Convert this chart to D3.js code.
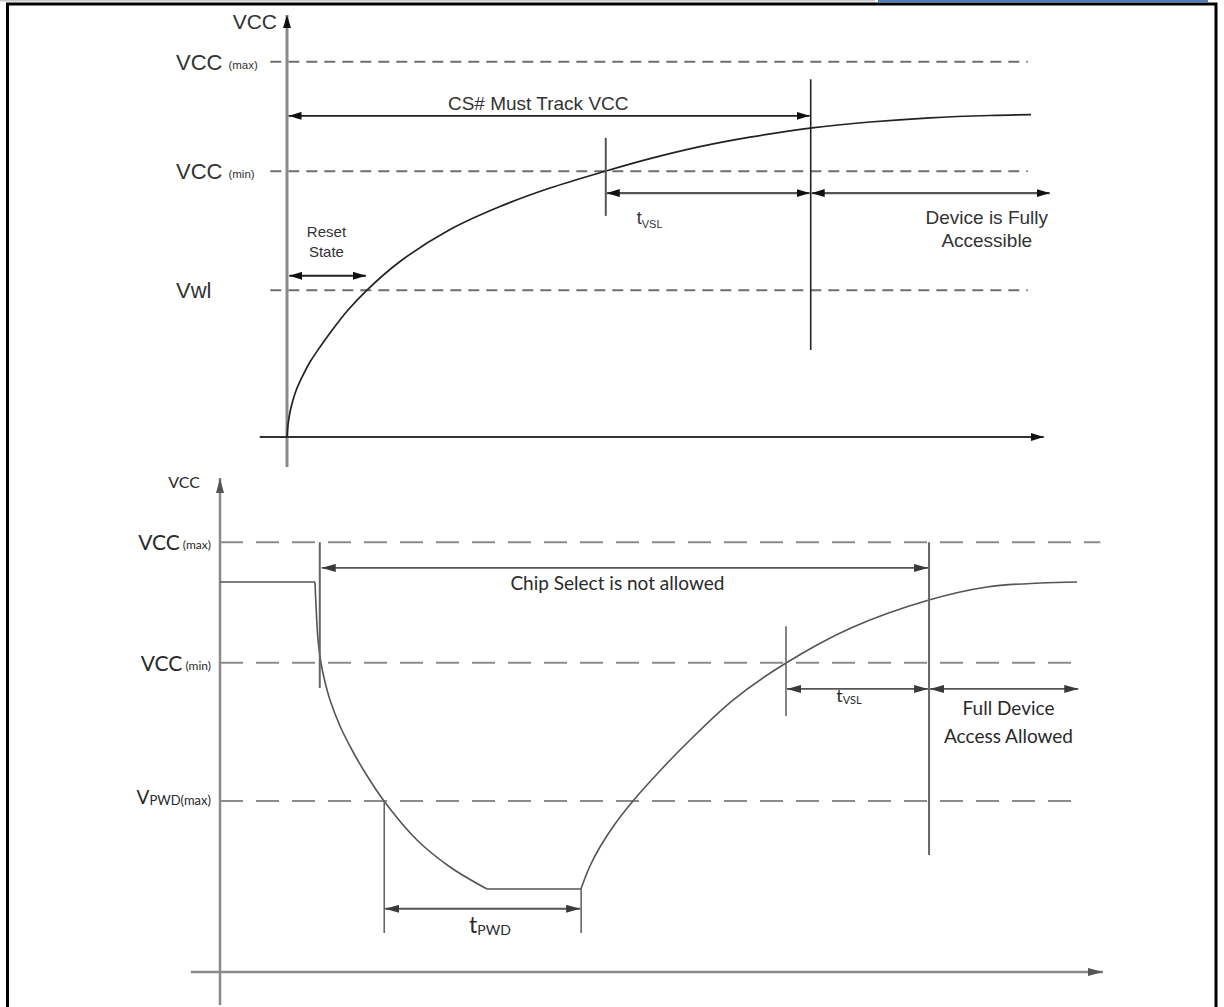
<!DOCTYPE html>
<html><head><meta charset="utf-8">
<script src="https://cdn.jsdelivr.net/npm/d3@7"></script>
<style>body{margin:0;background:#fff}svg{display:block}</style>
</head><body>
<script>
// ================= DATA =================
// --- Top panel: power-up timing (abstract units: time 0..100, voltage 0..100)
const topLevelNames = ["VCC", "VCC", "Vwl"];
const topLevelSubs  = ["(max)", "(min)", ""];
const topLevelV     = [88.9, 63.0, 34.8];
const topCurveT = [0, 0.13, 0.40, 0.79, 1.32, 2.11, 3.03, 4.35, 6.06, 8.04, 10.54, 14.89, 21.48, 28.06, 34.65, 42.03, 47.83, 54.41, 61.0, 69.17, 76.81, 84.72, 92.62, 98.02];
const topCurveV = [0, 2.84, 5.92, 8.77, 11.61, 14.69, 17.77, 21.33, 25.59, 30.09, 34.83, 41.59, 49.17, 54.62, 59.0, 63.03, 65.95, 68.79, 71.04, 73.25, 74.64, 75.62, 76.18, 76.37];
const topResetEnd = 10.4, topVslStart = 42.0, topAccess = 69.0, topEnd = 100.5;
const topCsV = 76.1, topVslV = 57.8, topResetV = 38.2;
const topTexts = ["CS# Must Track VCC", "Reset", "State", "Device is Fully", "Accessible"];

// --- Bottom panel: power-down / power-up timing
const botLevelNames = ["VCC", "VCC", "V"];
const botLevelSubs  = [" (max)", " (min)", "PWD(max)"];
const botLevelV     = [87.0, 62.6, 34.6];
const botLevelEnd   = [99.7, 97.7, 97.5];
const botSteadyT = [0, 10.76];
const botSteadyV = [78.95, 78.95];
const botFallT = [10.76, 10.87, 11.10, 11.44, 11.89, 12.46, 13.59, 14.95, 16.53, 18.57, 22.31, 26.05, 30.24];
const botFallV = [78.95, 74.29, 67.21, 62.55, 58.70, 55.06, 49.80, 44.94, 40.08, 34.62, 26.72, 21.26, 16.80];
const botFlatT = [30.24, 40.88];
const botFlatV = [16.80, 16.80];
const botRiseT = [40.88, 41.34, 41.90, 43.03, 44.73, 46.77, 49.60, 52.43, 58.10, 64.10, 71.46, 80.29, 86.86, 92.87, 97.06];
const botRiseV = [16.80, 19.03, 21.46, 25.30, 29.96, 34.62, 40.28, 45.55, 55.06, 62.55, 69.64, 75.30, 77.94, 78.74, 78.95];
const botCsStart = 11.3, botPwdStart = 18.6, botPwdEnd = 40.9, botVslStart = 64.1, botAccess = 80.3, botEnd = 97.2;
const botCsV = 81.8, botPwdV = 12.8, botVslV = 57.3;
const botTexts = ["Chip Select is not allowed", "Full Device", "Access Allowed"];

// ================= DRAW =================
const W = 1224, H = 1007;
const svg = d3.select("body").append("svg").attr("width", W).attr("height", H);
svg.append("rect").attr("width", W).attr("height", H).attr("fill", "#fff");

svg.append("rect").attr("x", 0).attr("y", 0).attr("width", 875).attr("height", 1.5).attr("fill", "#c8c8c8");
svg.append("rect").attr("x", 878).attr("y", 0).attr("width", 330).attr("height", 2.2).attr("fill", "#4f7cc2");
svg.append("rect").attr("x", 7.5).attr("y", 4).attr("width", 1208.5).attr("height", 1100)
  .attr("fill", "none").attr("stroke", "#000").attr("stroke-width", 3);

const defs = svg.append("defs");
function marker(id, color, len, wid) {
  defs.append("marker").attr("id", id)
    .attr("viewBox", `0 0 ${len} ${wid}`).attr("refX", len).attr("refY", wid / 2)
    .attr("markerWidth", len).attr("markerHeight", wid)
    .attr("markerUnits", "userSpaceOnUse").attr("orient", "auto-start-reverse")
    .append("path").attr("d", `M0,0L${len},${wid / 2}L0,${wid}Z`).attr("fill", color);
}
marker("ah", "#111", 13, 8);
marker("ahb", "#3a3a3a", 14, 8);
marker("ahg", "#555", 15, 8);

function seg(g, x1, y1, x2, y2, stroke, sw, opts = {}) {
  const l = g.append("line").attr("x1", x1).attr("y1", y1).attr("x2", x2).attr("y2", y2)
    .attr("stroke", stroke).attr("stroke-width", sw);
  if (opts.dash) l.attr("stroke-dasharray", opts.dash);
  if (opts.start) l.attr("marker-start", `url(#${opts.start})`);
  if (opts.end) l.attr("marker-end", `url(#${opts.end})`);
  return l;
}

// ---------- TOP PANEL ----------
const xT = d3.scaleLinear().domain([0, 100]).range([287, 1046]);
const yT = d3.scaleLinear().domain([0, 100]).range([437, 15]);
const gT = svg.append("g").attr("font-family", "'Liberation Sans', Arial, sans-serif").attr("fill", "#333");

topLevelV.forEach((v, i) => {
  seg(gT, xT(-2.2), yT(v), xT(97.6), yT(v), "#6f6f6f", 2, {dash: "11,7"});
  const t = gT.append("text").attr("x", xT(0) - 111).attr("y", yT(v) + 8).attr("font-size", 22).attr("fill", "#333");
  t.append("tspan").text(topLevelNames[i]);
  if (topLevelSubs[i]) t.append("tspan").attr("dx", 6).attr("font-size", 11.5).attr("dy", -1).text(topLevelSubs[i]);
});

seg(gT, xT(0), yT(-7.1), xT(0), yT(100), "#8a8a8a", 3, {end: "ah"});
seg(gT, xT(-3.6), yT(0), xT(99.7), yT(0), "#333", 2, {end: "ah"});
gT.append("text").attr("x", xT(0) - 10).attr("y", 29).attr("text-anchor", "end").attr("font-size", 21).text("VCC");

const topCurve = topCurveT.map((t, i) => [t, topCurveV[i]]);
gT.append("path").attr("d", d3.line().x(d => xT(d[0])).y(d => yT(d[1])).curve(d3.curveCatmullRom.alpha(0.5))(topCurve))
  .attr("fill", "none").attr("stroke", "#222").attr("stroke-width", 1.7);

seg(gT, xT(topAccess), yT(84.8), xT(topAccess), yT(20.6), "#222", 1.6);
seg(gT, xT(topVslStart), yT(70.9), xT(topVslStart), yT(52.4), "#555", 2);

seg(gT, xT(0.2), yT(topCsV), xT(topAccess) - 1, yT(topCsV), "#222", 1.6, {start: "ah", end: "ah"});
seg(gT, xT(topVslStart) + 1, yT(topVslV), xT(topAccess) - 1, yT(topVslV), "#555", 2.2, {start: "ah", end: "ah"});
seg(gT, xT(topAccess) + 1, yT(topVslV), xT(topEnd), yT(topVslV), "#555", 2.2, {start: "ah", end: "ah"});
seg(gT, xT(0.3), yT(topResetV), xT(topResetEnd), yT(topResetV), "#222", 2, {start: "ah", end: "ah"});

gT.append("text").attr("x", xT(33.1)).attr("y", 110).attr("text-anchor", "middle").attr("font-size", 19).text(topTexts[0]);
gT.append("text").attr("x", xT(topResetEnd / 2)).attr("y", 237).attr("text-anchor", "middle").attr("font-size", 15).text(topTexts[1]);
gT.append("text").attr("x", xT(topResetEnd / 2)).attr("y", 257).attr("text-anchor", "middle").attr("font-size", 15).text(topTexts[2]);
gT.append("text").attr("x", xT(92.2)).attr("y", 224).attr("text-anchor", "middle").attr("font-size", 19).text(topTexts[3]);
gT.append("text").attr("x", xT(92.2)).attr("y", 247).attr("text-anchor", "middle").attr("font-size", 19).text(topTexts[4]);
const tv = gT.append("text").attr("x", xT(topVslStart) + 31).attr("y", 224).attr("font-size", 18);
tv.append("tspan").text("t");
tv.append("tspan").attr("font-size", 11).attr("dy", 4).text("VSL");

// ---------- BOTTOM PANEL ----------
const xB = d3.scaleLinear().domain([0, 100]).range([220, 1103]);
const yB = d3.scaleLinear().domain([0, 100]).range([972, 478]);
const gB = svg.append("g").attr("font-family", "Lato, 'Open Sans', sans-serif").attr("fill", "#2a2a2a");

botLevelV.forEach((v, i) => {
  seg(gB, xB(0), yB(v), xB(botLevelEnd[i]), yB(v), "#8a8a8a", 2, {dash: "23,13"});
});
{
  const t0 = gB.append("text").attr("x", 211).attr("y", yB(botLevelV[0]) + 8).attr("text-anchor", "end").attr("font-size", 21);
  t0.append("tspan").text(botLevelNames[0]);
  t0.append("tspan").attr("font-size", 12).attr("dy", -1).text(botLevelSubs[0]);
  const t1 = gB.append("text").attr("x", 211).attr("y", yB(botLevelV[1]) + 8).attr("text-anchor", "end").attr("font-size", 21);
  t1.append("tspan").text(botLevelNames[1]);
  t1.append("tspan").attr("font-size", 12).attr("dy", -1).text(botLevelSubs[1]);
  const t2 = gB.append("text").attr("x", 211).attr("y", yB(botLevelV[2]) + 3).attr("text-anchor", "end").attr("font-size", 19);
  t2.append("tspan").text(botLevelNames[2]);
  t2.append("tspan").attr("font-size", 13).attr("dy", 1).text(botLevelSubs[2]);
}

seg(gB, xB(0), yB(-6.7), xB(0), yB(100), "#8a8a8a", 2.5, {end: "ahg"});
seg(gB, xB(-3.3), yB(0), xB(100), yB(0), "#8a8a8a", 2.5, {end: "ahg"});
gB.append("text").attr("x", 200).attr("y", 488).attr("text-anchor", "end").attr("font-size", 16).text("VCC");

const lineB = d3.line().x(d => xB(d[0])).y(d => yB(d[1]));
const pieces = [
  [botSteadyT, botSteadyV, d3.curveLinear],
  [botFallT, botFallV, d3.curveCatmullRom.alpha(0.5)],
  [botFlatT, botFlatV, d3.curveLinear],
  [botRiseT, botRiseV, d3.curveCatmullRom.alpha(0.5)]
];
pieces.forEach(([ts, vs, c]) => {
  gB.append("path").attr("d", lineB.curve(c)(ts.map((t, i) => [t, vs[i]])))
    .attr("fill", "none").attr("stroke", "#555").attr("stroke-width", 1.6);
});

seg(gB, xB(botCsStart), yB(87.0), xB(botCsStart), yB(57.5), "#666", 2);
seg(gB, xB(botPwdStart), yB(34.6), xB(botPwdStart), yB(7.9), "#666", 1.6);
seg(gB, xB(botPwdEnd), yB(16.8), xB(botPwdEnd), yB(7.9), "#666", 1.6);
seg(gB, xB(botVslStart), yB(70.0), xB(botVslStart), yB(51.8), "#666", 1.6);
seg(gB, xB(botAccess), yB(87.0), xB(botAccess), yB(23.7), "#666", 2);

seg(gB, xB(botCsStart) + 2, yB(botCsV), xB(botAccess) - 1, yB(botCsV), "#555", 1.8, {start: "ahb", end: "ahb"});
seg(gB, xB(botPwdStart) + 1, yB(botPwdV), xB(botPwdEnd) - 1, yB(botPwdV), "#555", 1.8, {start: "ahb", end: "ahb"});
seg(gB, xB(botVslStart) + 1, yB(botVslV), xB(botAccess) - 1, yB(botVslV), "#555", 1.8, {start: "ahb", end: "ahb"});
seg(gB, xB(botAccess) + 1, yB(botVslV), xB(botEnd), yB(botVslV), "#555", 1.8, {start: "ahb", end: "ahb"});

gB.append("text").attr("x", (xB(botCsStart) + xB(botAccess)) / 2 - 7).attr("y", 590).attr("text-anchor", "middle").attr("font-size", 19).text(botTexts[0]);
gB.append("text").attr("x", xB(89.3)).attr("y", 715).attr("text-anchor", "middle").attr("font-size", 19).text(botTexts[1]);
gB.append("text").attr("x", xB(89.3)).attr("y", 743).attr("text-anchor", "middle").attr("font-size", 19).text(botTexts[2]);
{
  const tp = gB.append("text").attr("x", 490).attr("y", 933).attr("text-anchor", "middle").attr("font-size", 23);
  tp.append("tspan").text("t");
  tp.append("tspan").attr("font-size", 14).attr("dy", 2).text("PWD");
  const tb = gB.append("text").attr("x", 849).attr("y", 702).attr("text-anchor", "middle").attr("font-size", 18);
  tb.append("tspan").text("t");
  tb.append("tspan").attr("font-size", 11).attr("dy", 2).text("VSL");
}
</script>
</body></html>
